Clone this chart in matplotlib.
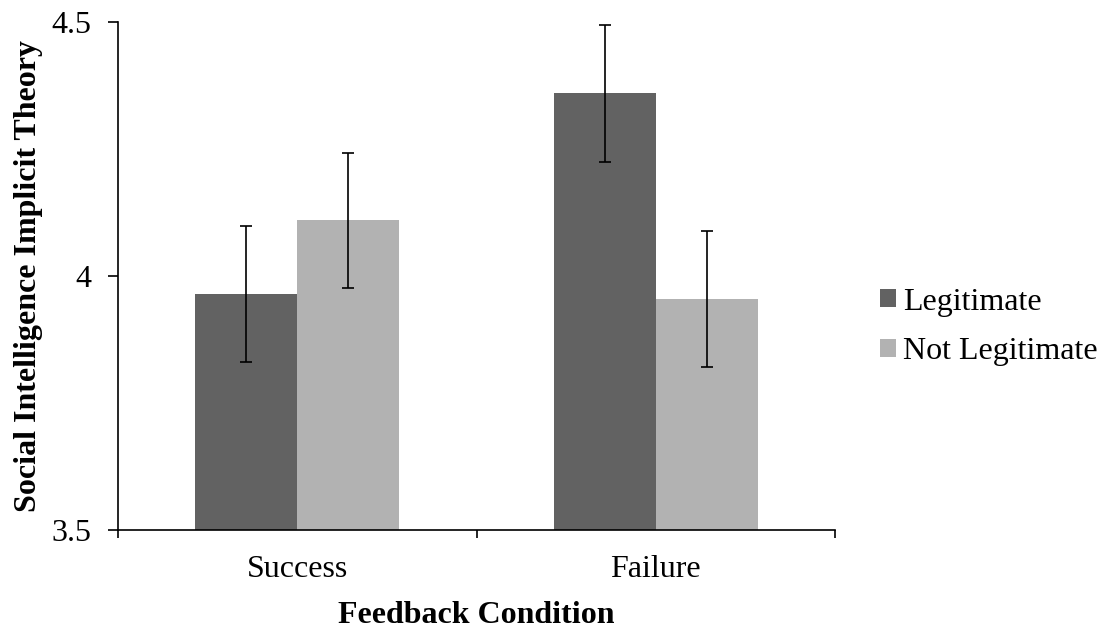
import matplotlib

matplotlib.use("Agg")
import matplotlib.pyplot as plt
import numpy as np

# Daten
conditions = ["Success", "Failure"]
series = ["Legitimate", "Not Legitimate"]
means_legit = [3.964, 4.360]
means_not_legit = [4.110, 3.955]
err_legit = [0.134, 0.135]
err_not_legit = [0.133, 0.134]
colors = ["#626262", "#b2b2b2"]

plt.rcParams["font.family"] = ["Liberation Serif", "DejaVu Serif"]
FS = 23

fig = plt.figure(figsize=(11.02, 6.29), dpi=100)
ax = fig.add_axes([118 / 1102, 1 - 530 / 629, (835 - 118) / 1102, (530 - 22) / 629])

x = np.arange(len(conditions))
width = 0.285
bars = []
for off, vals, errs, col, lab in (
    (-width / 2, means_legit, err_legit, colors[0], series[0]),
    (width / 2, means_not_legit, err_not_legit, colors[1], series[1]),
):
    b = ax.bar(x + off, [v - 3.5 for v in vals], width, bottom=3.5, color=col, label=lab)
    ax.errorbar(x + off, vals, yerr=errs, fmt="none", ecolor="black",
                elinewidth=1.2, capsize=4.5, capthick=1.2)
    bars.append(b)

ax.set_xlim(-0.5, 1.5)
ax.set_ylim(3.5, 4.5)
ax.set_yticks([3.5, 4, 4.5])
ax.set_yticklabels(["3.5", "4", "4.5"])
# Trennstriche zwischen den Kategorien, Beschriftung in der Mitte
ax.set_xticks([-0.5, 0.5, 1.5])
ax.set_xticklabels([])
ax.set_xticks(x, minor=True)
ax.set_xticklabels(conditions, minor=True)

for s in ("top", "right"):
    ax.spines[s].set_visible(False)
for s in ("left", "bottom"):
    ax.spines[s].set_linewidth(1.2)

ax.tick_params(axis="y", which="major", length=7, width=1.2, pad=12, labelsize=FS)
ax.tick_params(axis="x", which="major", length=6, width=1.2)
ax.tick_params(axis="x", which="minor", length=0, pad=18, labelsize=FS)

ax.set_xlabel("Feedback Condition", fontsize=FS, fontweight="bold", labelpad=12)
ax.set_ylabel("Social Intelligence Implicit Theory", fontsize=FS, fontweight="bold", labelpad=6)

ax.legend(handles=bars, loc="center left", bbox_to_anchor=(880 / 1102, 1 - 327 / 629),
          bbox_transform=fig.transFigure, frameon=False, fontsize=FS,
          handlelength=0.5, handleheight=0.5, handletextpad=0.22,
          labelspacing=0.65, borderpad=0, borderaxespad=0)

fig.savefig("out.png", dpi=100)
